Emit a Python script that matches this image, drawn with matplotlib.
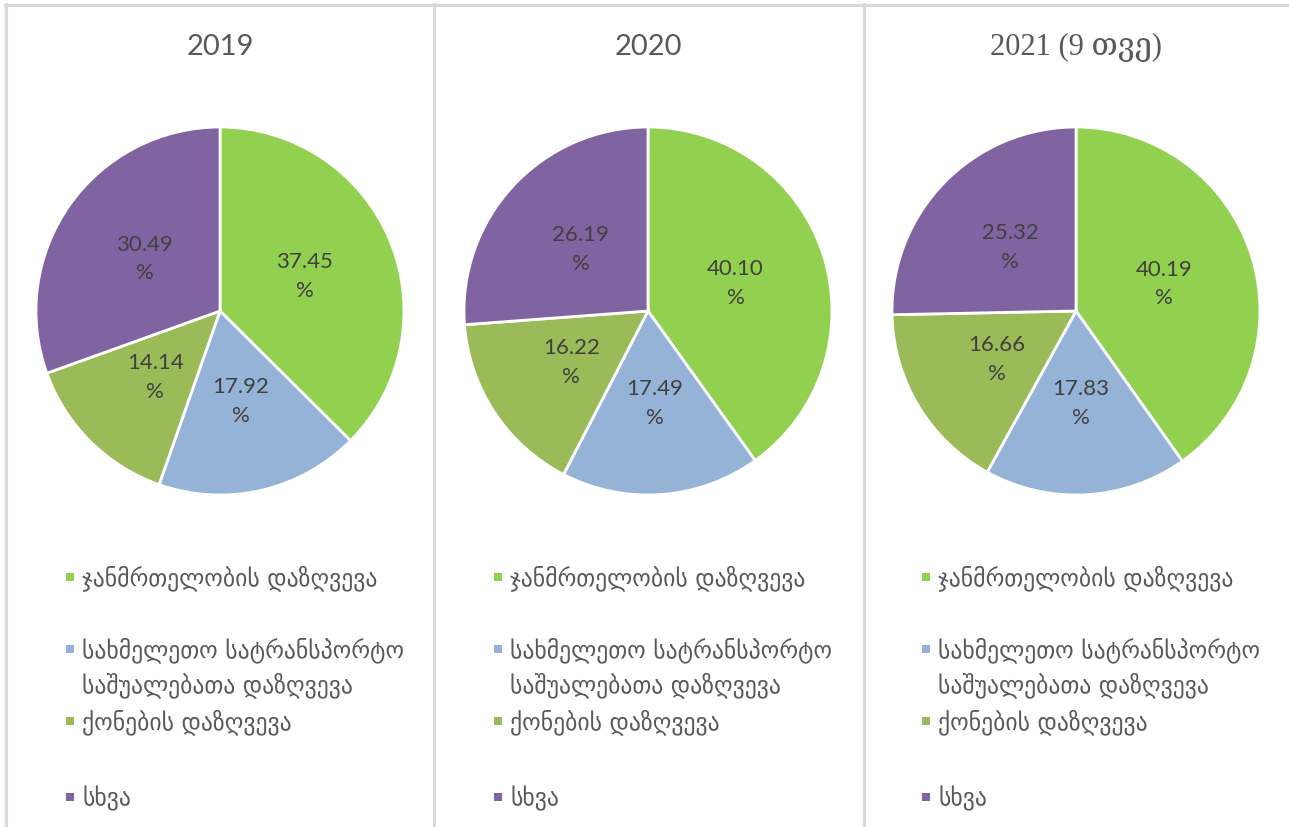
import matplotlib.pyplot as plt
from matplotlib.lines import Line2D
from matplotlib.patches import Rectangle

# data
titles = ['2019', '2020', '2021 (9 თვე)']
categories = ['ჯანმრთელობის დაზღვევა',
              'სახმელეთო სატრანსპორტო\nსაშუალებათა დაზღვევა',
              'ქონების დაზღვევა',
              'სხვა']
shares_2019 = [37.45, 17.92, 14.14, 30.49]
shares_2020 = [40.10, 17.49, 16.22, 26.19]
shares_2021 = [40.19, 17.83, 16.66, 25.32]
colors = ['#92D050', '#95B3D7', '#9BBB59', '#8064A2']

W, H = 1289, 828
fig = plt.figure(figsize=(W / 100, H / 100), dpi=100)
fig.patch.set_facecolor('white')


def fx(x):
    return x / W


def fy(y):
    return 1 - y / H


# panel frames
border = '#D9D9D9'
fig.add_artist(Line2D([fx(5), fx(W)], [fy(6), fy(6)], color=border, lw=2.2))
for x in [6, 434, 864]:
    fig.add_artist(Line2D([fx(x), fx(x)], [fy(5), fy(H)], color=border, lw=2.2))

centers = [220, 648, 1076]
cy, r = 312, 184
legend_y = [578, 650, 722, 798]
line_gap = 35

for i, (cx, title, vals) in enumerate(zip(centers, titles, [shares_2019, shares_2020, shares_2021])):
    ax = fig.add_axes([fx(cx - r), fy(cy + r), 2 * r / W, 2 * r / H])
    wedges, texts, autotexts = ax.pie(
        vals, colors=colors, startangle=90, counterclock=False,
        autopct=lambda p: f'{p:.2f}\n%', pctdistance=0.5,
        wedgeprops=dict(edgecolor='white', linewidth=2))
    for t in autotexts:
        t.set_color('#404040')
        t.set_fontsize(16)
        t.set_family('Lato')
        t.set_linespacing(1.55)
    ax.set_xlim(-1, 1)
    ax.set_ylim(-1, 1)
    ax.set_aspect('equal')

    if i == 2:
        fam = ['Liberation Serif', 'DejaVu Serif', 'DejaVu Sans']
        size = 22
    else:
        fam = ['Lato', 'DejaVu Sans']
        size = 21
    fig.text(fx(cx), fy(47), title, ha='center', va='center',
             fontsize=size, color='#595959', family=fam)

    # legend
    lx = cx - 154
    for j, (cat, col) in enumerate(zip(categories, colors)):
        y0 = legend_y[j]
        fig.add_artist(Rectangle((fx(lx), fy(y0 + 4)), 8 / W, 8 / H,
                                 facecolor=col, edgecolor='none'))
        for k, line in enumerate(cat.split('\n')):
            fig.text(fx(lx + 16), fy(y0 + k * line_gap), line, ha='left', va='center',
                     fontsize=17, color='#595959', family='DejaVu Sans')

fig.savefig('out.png', dpi=100, facecolor='white')
